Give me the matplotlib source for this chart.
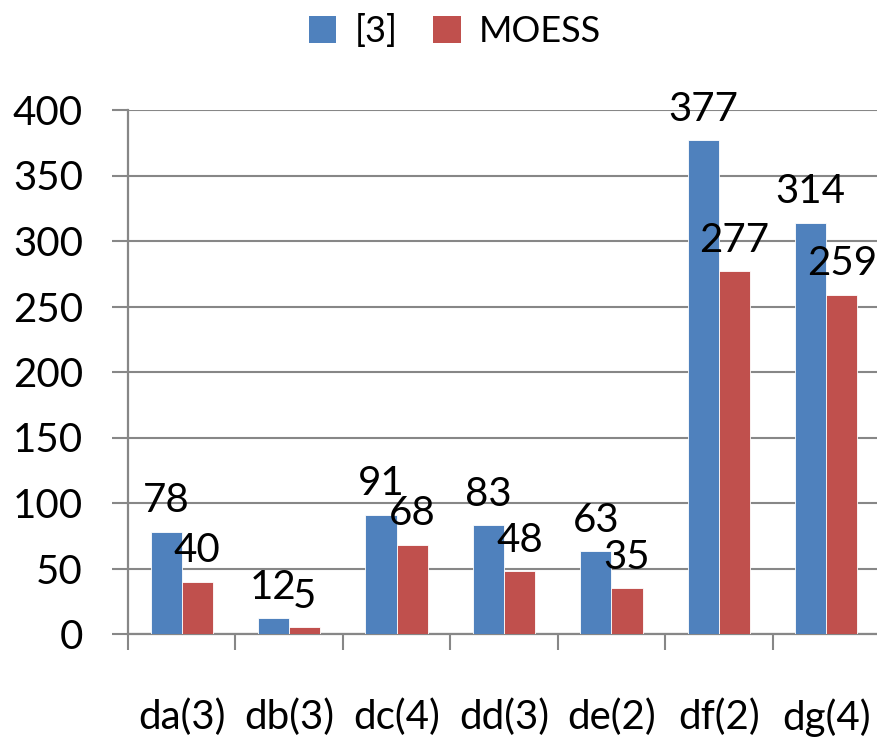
import matplotlib
matplotlib.use("Agg")
import matplotlib.pyplot as plt
import numpy as np
from matplotlib.patches import Patch

categories = ["da(3)", "db(3)", "dc(4)", "dd(3)", "de(2)", "df(2)", "dg(4)"]
series_names = ["[3]", "MOESS"]
ref3_values = [78, 12, 91, 83, 63, 377, 314]
moess_values = [40, 5, 68, 48, 35, 277, 259]
y_ticks = [0, 50, 100, 150, 200, 250, 300, 350, 400]

BLUE = "#4F81BD"
RED = "#C0504D"
GRAY = "#878787"

plt.rcParams["font.family"] = ["Lato", "DejaVu Sans"]

fig = plt.figure(figsize=(8.78, 7.39), dpi=100)
W, H = 878, 739
ax = fig.add_axes([128 / W, (H - 634) / H, (880 - 128) / W, 524 / H])

x = np.arange(len(categories))
bw = 0.29
b1 = ax.bar(x - bw / 2, ref3_values, bw, color=BLUE, edgecolor="white",
            linewidth=0.6, zorder=3)
b2 = ax.bar(x + bw / 2, moess_values, bw, color=RED, edgecolor="white",
            linewidth=0.6, zorder=3)

for bars, vals in ((b1, ref3_values), (b2, moess_values)):
    for rect, v in zip(bars, vals):
        ax.annotate(str(v), (rect.get_x() + rect.get_width() / 2, v),
                    xytext=(0, 14), textcoords="offset points",
                    ha="center", va="baseline", fontsize=29, color="black",
                    zorder=4, annotation_clip=False)

ax.set_xlim(-0.5, len(categories) - 0.5)
ax.set_ylim(0, 400)
ax.set_yticks(y_ticks)
ax.yaxis.grid(True, color=GRAY, linewidth=1.5, zorder=0)
ax.set_axisbelow(True)

for s in ("top", "right"):
    ax.spines[s].set_visible(False)
for s in ("left", "bottom"):
    ax.spines[s].set_color(GRAY)
    ax.spines[s].set_linewidth(1.6)

ax.tick_params(axis="y", direction="out", length=11.5, width=1.5, color=GRAY,
               labelsize=29, pad=21)

# category boundaries as major ticks, names on minor ticks at centres
ax.set_xticks(np.arange(-0.5, len(categories), 1.0))
ax.set_xticklabels([])
ax.tick_params(axis="x", which="major", direction="out", length=11.5,
               width=1.5, color=GRAY)
ax.set_xticks(x, minor=True)
ax.set_xticklabels(categories, minor=True)
ax.tick_params(axis="x", which="minor", length=0, labelsize=29, pad=46)

handles = [Patch(facecolor=BLUE), Patch(facecolor=RED)]
fig.legend(handles, series_names, loc="center", ncol=2,
           bbox_to_anchor=(455 / W, 1 - 31 / H), frameon=False, fontsize=26,
           handlelength=0.75, handleheight=0.75, handletextpad=0.5,
           columnspacing=1.0, borderpad=0)

fig.savefig("out.png", dpi=100)
